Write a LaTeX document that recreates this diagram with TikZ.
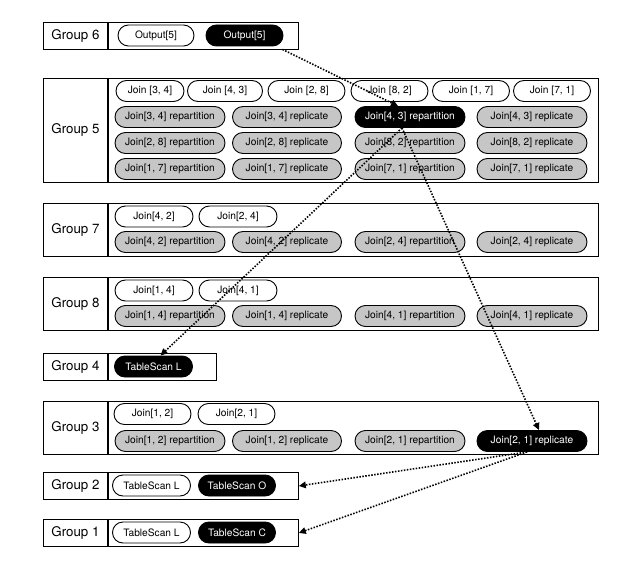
\documentclass[tikz,border=0pt]{standalone}
\usepackage{fontspec}
\setmainfont{TeX Gyre Heros}
\usetikzlibrary{shapes.misc, arrows.meta}

\tikzset{
  grp/.style={draw, line width=0.9pt, inner sep=0pt, anchor=north west, minimum width=64pt, font=\fontsize{13.3}{15}\selectfont},
  grpbody/.style={draw, line width=0.9pt, inner sep=0pt, anchor=north west},
  pill/.style={draw, line width=0.9pt, rounded rectangle, inner sep=0pt, minimum height=21pt, font=\fontsize{10.2}{12}\selectfont},
  opt/.style={pill, fill=white},
  alt/.style={pill, fill=gray!45},
  best/.style={pill, fill=black, text=white},
  flow/.style={line width=1.6pt, dash pattern=on 1.5pt off 1.5pt, -{Triangle[width=6.5pt,length=7pt]}}
}

\begin{document}
\begin{tikzpicture}[x=1pt, y=-1pt]
			\useasboundingbox (0,0) rectangle (640,578);
			% group 6
			\node[grp, minimum height=27pt] (g6) at (43,22) {Group 6};
			\node[grpbody, minimum width=190pt, minimum height=27pt] (g6b) at (g6.north east) {};
			\node[opt, minimum width=76pt] (o5a) at (156,35.5) {Output[5]};
			\node[best, minimum width=77pt] (o5b) at (244.5,35.5) {Output[5]};
			% group 5
			\node[grp, minimum height=104pt] (g5) at (43,78) {Group 5};
			\node[grpbody, minimum width=490pt, minimum height=104pt] (g5b) at (g5.north east) {};
			\node[opt, minimum width=68pt] (j34) at (150,91) {Join [3, 4]};
			\node[opt, minimum width=75pt] (j43) at (225,91) {Join [4, 3]};
			\node[opt, minimum width=77pt] (j28) at (306.5,91) {Join [2, 8]};
			\node[opt, minimum width=77pt] (j82) at (389.5,91) {Join [8, 2]};
			\node[opt, minimum width=77pt] (j17) at (471,91) {Join [1, 7]};
			\node[opt, minimum width=77pt] (j71) at (552,91) {Join [7, 1]};
			\node[alt, minimum width=110pt] (j34rp) at (170,117) {Join[3, 4] repartition};
			\node[alt, minimum width=109pt] (j34rl) at (287,117) {Join[3, 4] replicate};
			\node[best, minimum width=110pt] (j43rp) at (410,117) {Join[4, 3] repartition};
			\node[alt, minimum width=110pt] (j43rl) at (532,117) {Join[4, 3] replicate};
			\node[alt, minimum width=110pt] (j28rp) at (170,143) {Join[2, 8] repartition};
			\node[alt, minimum width=109pt] (j28rl) at (287,143) {Join[2, 8] replicate};
			\node[alt, minimum width=110pt] (j82rp) at (410,143) {Join[8, 2] repartition};
			\node[alt, minimum width=110pt] (j82rl) at (532,143) {Join[8, 2] replicate};
			\node[alt, minimum width=110pt] (j17rp) at (170,169) {Join[1, 7] repartition};
			\node[alt, minimum width=109pt] (j17rl) at (287,169) {Join[1, 7] replicate};
			\node[alt, minimum width=110pt] (j71rp) at (410,169) {Join[7, 1] repartition};
			\node[alt, minimum width=110pt] (j71rl) at (532,169) {Join[7, 1] replicate};
			% group 7
			\node[grp, minimum height=53pt] (g7) at (43,203) {Group 7};
			\node[grpbody, minimum width=490pt, minimum height=53pt] (g7b) at (g7.north east) {};
			\node[opt, minimum width=78pt] (j42) at (154,216.5) {Join[4, 2]};
			\node[opt, minimum width=78pt] (j24) at (238,216.5) {Join[2, 4]};
			\node[alt, minimum width=110pt] (j42rp) at (170,242) {Join[4, 2] repartition};
			\node[alt, minimum width=109pt] (j42rl) at (287,242) {Join[4, 2] replicate};
			\node[alt, minimum width=110pt] (j24rp) at (410,242) {Join[2, 4] repartition};
			\node[alt, minimum width=110pt] (j24rl) at (532,242) {Join[2, 4] replicate};
			% group 8
			\node[grp, minimum height=53pt] (g8) at (43,277) {Group 8};
			\node[grpbody, minimum width=490pt, minimum height=53pt] (g8b) at (g8.north east) {};
			\node[opt, minimum width=78pt] (j14) at (154,290.5) {Join[1, 4]};
			\node[opt, minimum width=78pt] (j41) at (238,290.5) {Join[4, 1]};
			\node[alt, minimum width=110pt] (j14rp) at (170,316) {Join[1, 4] repartition};
			\node[alt, minimum width=109pt] (j14rl) at (287,316) {Join[1, 4] replicate};
			\node[alt, minimum width=110pt] (j41rp) at (410,316) {Join[4, 1] repartition};
			\node[alt, minimum width=110pt] (j41rl) at (532,316) {Join[4, 1] replicate};
			% group 4
			\node[grp, minimum height=27pt] (g4) at (43,353) {Group 4};
			\node[grpbody, minimum width=108pt, minimum height=27pt] (g4b) at (g4.north east) {};
			\node[best, minimum width=78pt] (tsl4) at (153.5,366.5) {TableScan L};
			% group 3
			\node[grp, minimum height=53pt] (g3) at (43,401) {Group 3};
			\node[grpbody, minimum width=490pt, minimum height=53pt] (g3b) at (g3.north east) {};
			\node[opt, minimum width=77pt] (j12) at (152.5,414) {Join[1, 2]};
			\node[opt, minimum width=77pt] (j21) at (236.5,414) {Join[2, 1]};
			\node[alt, minimum width=110pt] (j12rp) at (170,441) {Join[1, 2] repartition};
			\node[alt, minimum width=109pt] (j12rl) at (287,441) {Join[1, 2] replicate};
			\node[alt, minimum width=110pt] (j21rp) at (410,441) {Join[2, 1] repartition};
			\node[best, minimum width=110pt] (j21rl) at (532,441) {Join[2, 1] replicate};
			% group 2
			\node[grp, minimum height=27pt] (g2) at (43,472) {Group 2};
			\node[grpbody, minimum width=190pt, minimum height=27pt] (g2b) at (g2.north east) {};
			\node[opt, minimum width=78pt] (tsl2) at (151.5,485.5) {TableScan L};
			\node[best, minimum width=77pt] (tso2) at (237,485.5) {TableScan O};
			% group 1
			\node[grp, minimum height=27pt] (g1) at (43,519) {Group 1};
			\node[grpbody, minimum width=190pt, minimum height=27pt] (g1b) at (g1.north east) {};
			\node[opt, minimum width=78pt] (tsl1) at (151.5,532.5) {TableScan L};
			\node[best, minimum width=77pt] (tsc1) at (237,532.5) {TableScan C};
			% chosen plan
			\draw[flow] ([shift={(10pt,-3pt)}]o5b.south east) -- ([xshift=-12pt]j43rp.north);
			\draw[flow] ([xshift=-8pt]j43rp.south) -- ([xshift=7pt]tsl4.north);
			\draw[flow] ([xshift=-8pt]j43rp.south) -- ([xshift=7pt]j21rl.north);
			\draw[flow] ([xshift=-5pt]j21rl.south) -- (g2b.east);
			\draw[flow] ([xshift=-5pt]j21rl.south) -- (g1b.east);
		\end{tikzpicture}
\end{document}
